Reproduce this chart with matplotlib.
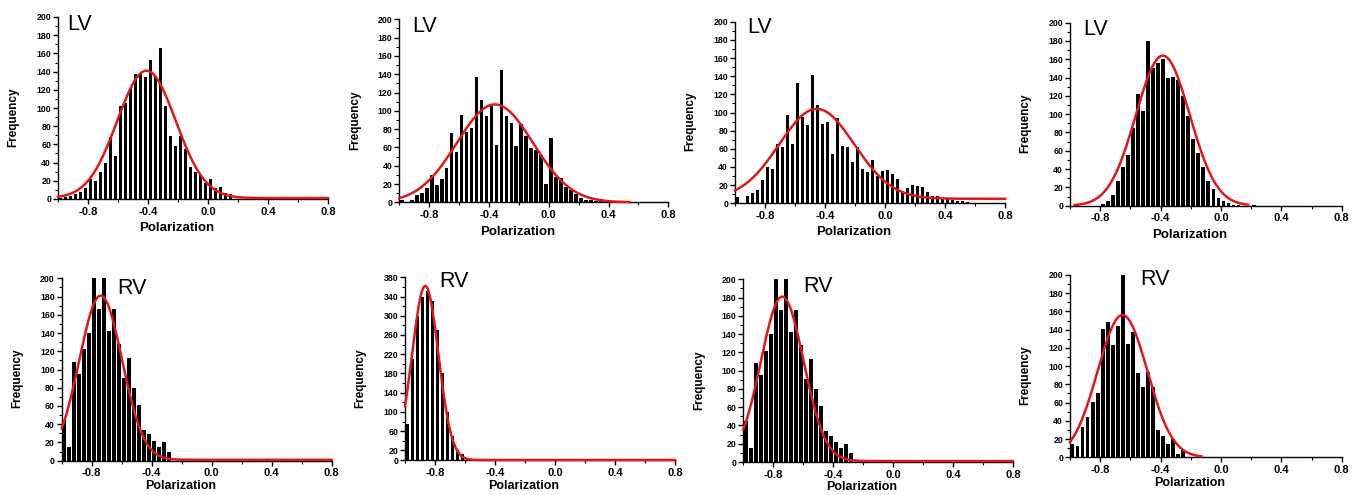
import numpy as np
import matplotlib
matplotlib.use("Agg")
import matplotlib.pyplot as plt
from matplotlib.ticker import MultipleLocator

plt.rcParams['font.family'] = ['Liberation Sans', 'DejaVu Sans']

# ---------------- data ----------------
bin_start = -1.0
bin_width = 1 / 30

lv_a = [1, 2, 3, 5, 8, 12, 22, 20, 30, 40, 68, 47, 102, 105, 122, 137, 137, 134,
        153, 135, 166, 102, 69, 58, 69, 55, 35, 30, 26, 18, 22, 12, 13, 7, 5]
lv_b = [2, 0, 3, 8, 10, 16, 30, 19, 25, 37, 76, 55, 95, 77, 81, 137, 112, 94, 105,
        63, 145, 94, 87, 61, 86, 72, 59, 57, 52, 20, 70, 28, 27, 17, 13, 9, 5, 3, 2, 1, 4]
lv_c = [7, 0, 8, 11, 15, 26, 40, 38, 65, 62, 97, 65, 132, 95, 86, 141, 108, 87, 89,
        54, 94, 63, 62, 45, 62, 38, 34, 48, 30, 36, 37, 32, 27, 14, 17, 20, 19, 18,
        12, 8, 8, 5, 5, 4, 3, 2, 1]
lv_d = [0, 0, 0, 0, 0, 0, 2, 5, 12, 27, 42, 55, 85, 122, 103, 180, 150, 156, 160,
        140, 141, 137, 120, 98, 73, 58, 42, 27, 18, 8, 5, 3, 1, 1, 0, 0, 1]
rv_a = [45, 15, 108, 95, 122, 140, 200, 166, 200, 142, 166, 128, 91, 113, 80, 61,
        34, 29, 22, 15, 20, 10, 0, 0, 2]
rv_b = [75, 210, 300, 340, 352, 330, 270, 180, 100, 50, 20, 12, 5, 1]
rv_c = [45, 15, 108, 95, 122, 140, 200, 166, 200, 142, 166, 128, 91, 113, 80, 61,
        34, 29, 22, 15, 20, 10, 0, 0, 2]
rv_d = [15, 12, 33, 44, 61, 70, 141, 148, 123, 144, 200, 124, 138, 92, 77, 94, 77,
        30, 23, 15, 20, 4, 8]

panel_counts = [lv_a, lv_b, lv_c, lv_d, rv_a, rv_b, rv_c, rv_d]
panel_labels = ["LV", "LV", "LV", "LV", "RV", "RV", "RV", "RV"]

# Gaussian fit parameters (red curves)
fit_center = [-0.41, -0.36, -0.455, -0.385, -0.74, -0.865, -0.74, -0.652]
fit_sigma = [0.195, 0.255, 0.25, 0.178, 0.143, 0.088, 0.143, 0.165]
fit_amp = [140, 107, 99, 164, 180, 362, 180, 156]
fit_offset = [1, 0, 5, 0, 1, 0, 1, 0]
fit_from = [-1.0, -1.0, -1.0, -0.97, -1.0, -1.0, -1.0, -1.0]
fit_to = [0.8, 0.54, 0.8, 0.18, 0.8, 0.8, 0.8, -0.13]

x_ticks = [-0.8, -0.4, 0.0, 0.4, 0.8]
x_tick_labels = ["-0.8", "-0.4", "0.0", "0.4", "0.8"]
y_ticks_default = list(range(0, 201, 20))
y_ticks_rv_b = [0, 20, 60, 100, 140, 180, 220, 260, 300, 340, 380]
y_max = [200, 200, 200, 200, 200, 380, 200, 200]

# ---------------- layout (pixels) ----------------
W, H = 1358, 495
boxes = [  # x0, x1, ytop, ybottom
    (58, 328, 17, 199),
    (399.3, 668.3, 19.3, 202.3),
    (735, 1005, 21.7, 203.3),
    (1070, 1341.7, 22.7, 205.7),
    (61.7, 331.7, 278.3, 460.7),
    (405, 675, 277.3, 460),
    (743.3, 1013, 279.3, 462),
    (1070, 1341.7, 275, 457.3),
]
label_pos = [(0.033, 0.93), (0.047, 0.93), (0.044, 0.94), (0.048, 0.935),
             (0.205, 0.915), (0.126, 0.948), (0.224, 0.93), (0.258, 0.946)]
xlabel_y = [-0.16, -0.16, -0.16, -0.16, -0.138, -0.14, -0.135, -0.14]
xlabel_size = [9.5, 9.5, 9.5, 9.5, 9, 9, 9, 9]

fig = plt.figure(figsize=(W / 100, H / 100), dpi=100)
red = '#e0171b'

for i in range(8):
    x0, x1, yt, yb = boxes[i]
    ax = fig.add_axes([x0 / W, 1 - yb / H, (x1 - x0) / W, (yb - yt) / H])
    counts = np.array(panel_counts[i], dtype=float)
    centers = bin_start + bin_width * (np.arange(len(counts)) + 0.5)
    ax.bar(centers, counts, width=bin_width * 0.75, color='black', linewidth=0, zorder=2)

    xs = np.linspace(fit_from[i], fit_to[i], 400)
    ys = fit_offset[i] + fit_amp[i] * np.exp(-0.5 * ((xs - fit_center[i]) / fit_sigma[i]) ** 2)
    ax.plot(xs, ys, color=red, lw=1.8, zorder=3, clip_on=False)

    ax.set_xlim(-1.0, 0.8)
    ax.set_ylim(0, y_max[i])
    ax.set_xticks(x_ticks)
    ax.set_xticklabels(x_tick_labels)
    ax.xaxis.set_minor_locator(MultipleLocator(0.2))
    if i == 5:
        ax.set_yticks(y_ticks_rv_b)
        ax.yaxis.set_minor_locator(MultipleLocator(20))
    else:
        ax.set_yticks(y_ticks_default)
        ax.yaxis.set_minor_locator(MultipleLocator(10))

    for s in ['top', 'right']:
        ax.spines[s].set_visible(False)
    for s in ['left', 'bottom']:
        ax.spines[s].set_linewidth(1.0)
    ax.tick_params(axis='both', which='major', direction='out', length=3.5, width=1.0)
    ax.tick_params(axis='both', which='minor', direction='out', length=2, width=0.8)
    ax.tick_params(axis='x', which='major', labelsize=8, pad=2)
    ax.tick_params(axis='y', which='major', labelsize=6.3, pad=1.5)
    for lab in ax.get_xticklabels() + ax.get_yticklabels():
        lab.set_fontweight('bold')

    ax.text(0.44, xlabel_y[i], "Polarization", transform=ax.transAxes, ha='center',
            va='center', fontsize=xlabel_size[i], fontweight='bold')
    ax.text(-0.165, 0.45, "Frequency", transform=ax.transAxes, ha='center',
            va='center', rotation=90, fontsize=8.5, fontweight='bold')
    lx, ly = label_pos[i]
    ax.text(lx, ly, panel_labels[i], transform=ax.transAxes, ha='left',
            va='baseline', fontsize=15.5)

fig.savefig("out.png", dpi=100)
